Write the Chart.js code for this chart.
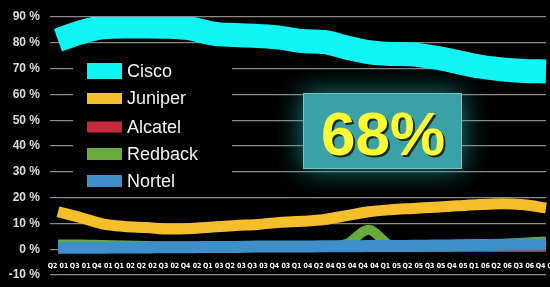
<!DOCTYPE html>
<html><head><meta charset="utf-8">
<script src="https://cdn.jsdelivr.net/npm/chart.js@4"></script>
<style>html,body{margin:0;padding:0;background:#000;}canvas{display:block;}</style>
</head><body>
<canvas id="c" width="550" height="287"></canvas>
<script>
const categories = ['Q2 01','Q3 01','Q4 01','Q1 02','Q2 02','Q3 02','Q4 02','Q1 03','Q2 03','Q3 03','Q4 03','Q1 04','Q2 04','Q3 04','Q4 04','Q1 05','Q2 05','Q3 05','Q4 05','Q1 06','Q2 06','Q3 06','Q4 06'];
const cisco   = [81, 84, 86, 86.3, 86.3, 86.2, 85.5, 83.6, 83, 82.6, 82, 80.7, 80.3, 78.2, 76.4, 75.7, 75.5, 74.3, 72.6, 70.8, 69.7, 69.1, 68.9];
const juniper = [14.5, 12.3, 9.8, 8.8, 8.4, 7.8, 8.0, 8.6, 9.2, 9.6, 10.4, 10.8, 11.5, 13, 14.5, 15.3, 15.8, 16.3, 16.8, 17.3, 17.6, 17.2, 16];
const alcatel = [0.5, 0.5, 0.5, 0.5, 0.5, 0.5, 0.5, 0.5, 0.5, 0.5, 0.5, 0.5, 0.5, 0.5, 0.5, 0.5, 0.5, 0.5, 0.5, 0.5, 0.5, 0.5, 0.5];
const redback = [1.8, 1.8, 1.6, 1.4, 1.2, 1, 1, 1, 1, 1, 1, 1, 1, 2, 7.5, 1.5, 1, 1, 1.2, 1.5, 2, 2.5, 3];
const nortel  = [0.6, 0.6, 0.6, 0.7, 0.7, 0.8, 0.8, 0.9, 0.9, 1, 1, 1, 1.1, 1.1, 1.2, 1.2, 1.3, 1.4, 1.5, 1.6, 1.7, 1.8, 1.9];
const yTicks = [-10, 0, 10, 20, 30, 40, 50, 60, 70, 80, 90];
const seriesNames = ['Cisco', 'Juniper', 'Alcatel', 'Redback', 'Nortel'];
const highlight = '68%';

const colors = ['#10f4f4', '#f4bf2a', '#c8283c', '#6aaa3c', '#3f8fca'];
const widths = [24, 11, 8, 10, 12];
const legendBoxH = [16, 11, 11, 12, 12];
const seriesData = [cisco, juniper, alcatel, redback, nortel];
const orders = [4, 3, 2, 1, 0];

const datasets = seriesNames.map((n, i) => ({
  label: n,
  data: seriesData[i],
  borderColor: colors[i],
  backgroundColor: colors[i],
  borderWidth: widths[i],
  pointRadius: 0,
  cubicInterpolationMode: 'monotone',
  borderCapStyle: 'butt',
  borderJoinStyle: 'round',
  fill: false,
  order: orders[i]
}));

const bgPlugin = {
  id: 'bg',
  beforeDraw(chart) {
    const ctx = chart.ctx;
    ctx.save(); ctx.fillStyle = '#000'; ctx.fillRect(0, 0, chart.width, chart.height); ctx.restore();
  },
  beforeDatasetsDraw(chart) {
    const ctx = chart.ctx;
    ctx.save();
    ctx.fillStyle = '#000';
    ctx.fillRect(73, 55, 159, 140);
    ctx.font = '18px "Liberation Sans", Arial, sans-serif';
    ctx.textBaseline = 'middle';
    const centers = [71, 98.5, 127, 154, 181];
    chart.data.datasets.forEach((ds, i) => {
      ctx.fillStyle = ds.borderColor;
      const h = legendBoxH[i];
      ctx.fillRect(87, centers[i] - h / 2, 35, h);
      ctx.fillStyle = '#f2f2f2';
      ctx.fillText(ds.label, 127, centers[i] + 1);
    });
    ctx.shadowColor = 'rgba(40,170,170,0.75)';
    ctx.shadowBlur = 28;
    ctx.fillStyle = '#3aa2a6';
    ctx.fillRect(303, 93, 159, 76);
    ctx.shadowBlur = 0;
    ctx.strokeStyle = '#6cc8c8';
    ctx.lineWidth = 1;
    ctx.strokeRect(303.5, 93.5, 158, 75);
    ctx.font = 'bold 62px "Liberation Sans", Arial, sans-serif';
    ctx.textAlign = 'center';
    ctx.textBaseline = 'alphabetic';
    ctx.fillStyle = '#1a2a10';
    ctx.fillText(highlight, 385, 157);
    ctx.fillStyle = '#ffff33';
    ctx.fillText(highlight, 383, 155);
    ctx.restore();
  }
};

new Chart(document.getElementById('c'), {
  type: 'line',
  data: { labels: categories, datasets },
  options: {
    responsive: false,
    animation: false,
    devicePixelRatio: 1,
    layout: { padding: { top: 17, right: 4, bottom: 12, left: 0 } },
    plugins: { legend: { display: false }, tooltip: { enabled: false } },
    scales: {
      x: {
        position: { y: 0 },
        offset: false,
        afterFit(scale) { scale.height = 0; scale.paddingLeft = 0; scale.paddingRight = 0; scale.paddingTop = 0; scale.paddingBottom = 0; },
        grid: { display: false },
        border: { display: false },
        ticks: { color: '#ffffff', font: { size: 7, weight: 'bold', family: '"DejaVu Sans Condensed", "DejaVu Sans", sans-serif' }, autoSkip: false, maxRotation: 0, minRotation: 0, padding: 5 }
      },
      y: {
        min: -10, max: 90,
        afterBuildTicks(scale) { scale.ticks = yTicks.map(v => ({ value: v })); },
        afterFit(scale) { scale.width = 58; scale.paddingTop = 0; scale.paddingBottom = 0; },
        grid: { color: '#8a8a8a', lineWidth: 1.2, tickLength: 8 },
        border: { display: false },
        ticks: { color: '#dcdcdc', padding: 10, font: { size: 12, weight: 'bold', family: '"Liberation Sans", Arial, sans-serif' }, callback: v => v + ' %' }
      }
    }
  },
  plugins: [bgPlugin]
});
</script>
</body></html>
